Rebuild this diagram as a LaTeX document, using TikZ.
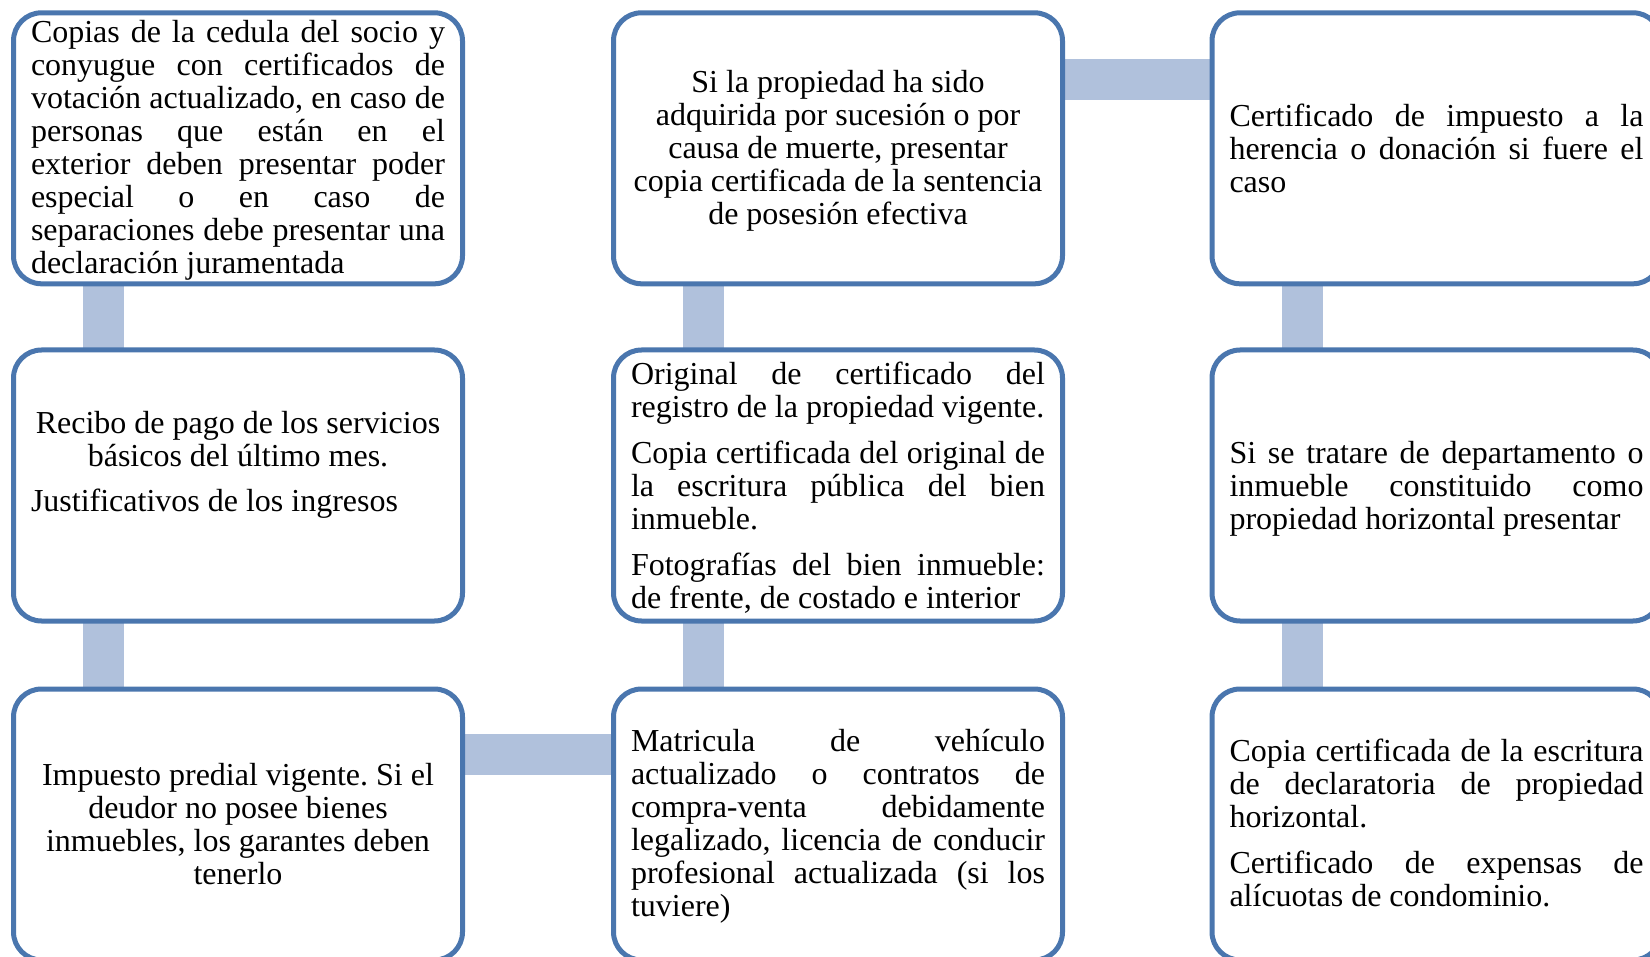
\documentclass[tikz,border=0pt]{standalone}
\usepackage{fontspec}
\setmainfont{Liberation Serif}
\usetikzlibrary{backgrounds}
\definecolor{boxblue}{HTML}{4A76AE}
\definecolor{linkblue}{HTML}{B0C1DC}
\hyphenpenalty=10000
\exhyphenpenalty=10000
\tolerance=10000
\frenchspacing
\tikzset{
	box/.style={draw=boxblue, line width=5pt, rounded corners=28pt, fill=white, minimum width=449pt, minimum height=271pt, inner sep=0pt, outer sep=0pt},
	link/.style={draw=linkblue, line width=41pt},
	txt/.style={text width=414pt, inner sep=0pt, font=\fontsize{32}{33}\selectfont},
}
\begin{document}
\begin{tikzpicture}[x=1pt,y=-1pt]
			\useasboundingbox (0,0) rectangle (1650,957);
			\clip (0,0) rectangle (1650,957);
			% boxes
			\node[box] (cedula) at (238, 148.3) {};
			\node[box] (sucesion) at (838, 148.3) {};
			\node[box] (herencia) at (1436.5, 148.3) {};
			\node[box] (recibo) at (238, 485.5) {};
			\node[box] (registro) at (838, 485.5) {};
			\node[box] (horizontal) at (1436.5, 485.5) {};
			\node[box] (predial) at (238, 824.5) {};
			\node[box] (vehiculo) at (838, 824.5) {};
			\node[box] (expensas) at (1436.5, 824.5) {};
			% connectors
			\begin{scope}[on background layer]
				\draw[link] ([xshift=-134.5pt]cedula.south) -- ([xshift=-134.5pt]recibo.north);
				\draw[link] ([xshift=-134.5pt]recibo.south) -- ([xshift=-134.5pt]predial.north);
				\draw[link] ([xshift=-134.5pt]sucesion.south) -- ([xshift=-134.5pt]registro.north);
				\draw[link] ([xshift=-134.5pt]registro.south) -- ([xshift=-134.5pt]vehiculo.north);
				\draw[link] ([xshift=-134.5pt]herencia.south) -- ([xshift=-134.5pt]horizontal.north);
				\draw[link] ([xshift=-134.5pt]horizontal.south) -- ([xshift=-134.5pt]expensas.north);
				\draw[link] ([yshift=68.8pt]sucesion.east) -- ([yshift=68.8pt]herencia.west);
				\draw[link] ([yshift=70pt]predial.east) -- ([yshift=70pt]vehiculo.west);
			\end{scope}
			% texts
			\node[txt, align=justify] (tCedula) at (238, 150) {Copias de la cedula del socio y\linebreak conyugue con certificados de\linebreak votación actualizado, en caso de\linebreak personas que están en el\linebreak exterior deben presentar poder\linebreak especial o en caso de\linebreak separaciones debe presentar una\linebreak declaración juramentada};
			\node[txt, align=flush center] (tSucesion) at (838, 151.3) {Si la propiedad ha sido\\ adquirida por sucesión o por\\ causa de muerte, presentar\\ copia certificada de la sentencia\\ de posesión efectiva};
			\node[txt, align=justify] (tHerencia) at (herencia) {Certificado de impuesto a la\linebreak herencia o donación si fuere el\linebreak caso};
			\node[txt, align=flush center] (tRecibo) at (238, 439) {Recibo de pago de los servicios\\ básicos del último mes.};
			\node[txt, align=flush left] (tIngresos) at (238, 504) {Justificativos de los ingresos};
			\node[txt, align=justify] (tRegistro) at (838, 487.5) {Original de certificado del\linebreak registro de la propiedad vigente.\par\vspace{13pt}Copia certificada del original de\linebreak la escritura pública del bien\linebreak inmueble.\par\vspace{13pt}Fotografías del bien inmueble:\linebreak de frente, de costado e interior};
			\node[txt, align=justify] (tHorizontal) at (1436.5, 488.5) {Si se tratare de departamento o\linebreak inmueble constituido como\linebreak propiedad horizontal presentar};
			\node[txt, align=flush center] (tPredial) at (predial) {Impuesto predial vigente. Si el\\ deudor no posee bienes\\ inmuebles, los garantes deben\\ tenerlo};
			\node[txt, align=justify] (tVehiculo) at (838, 826.5) {Matricula de vehículo\linebreak actualizado o contratos de\linebreak compra-venta debidamente\linebreak legalizado, licencia de conducir\linebreak profesional actualizada (si los\linebreak tuviere)};
			\node[txt, align=justify] (tExpensas) at (1436.5, 823) {Copia certificada de la escritura\linebreak de declaratoria de propiedad\linebreak horizontal.\par\vspace{13pt}Certificado de expensas de\linebreak alícuotas de condominio.};
\end{tikzpicture}
\end{document}
